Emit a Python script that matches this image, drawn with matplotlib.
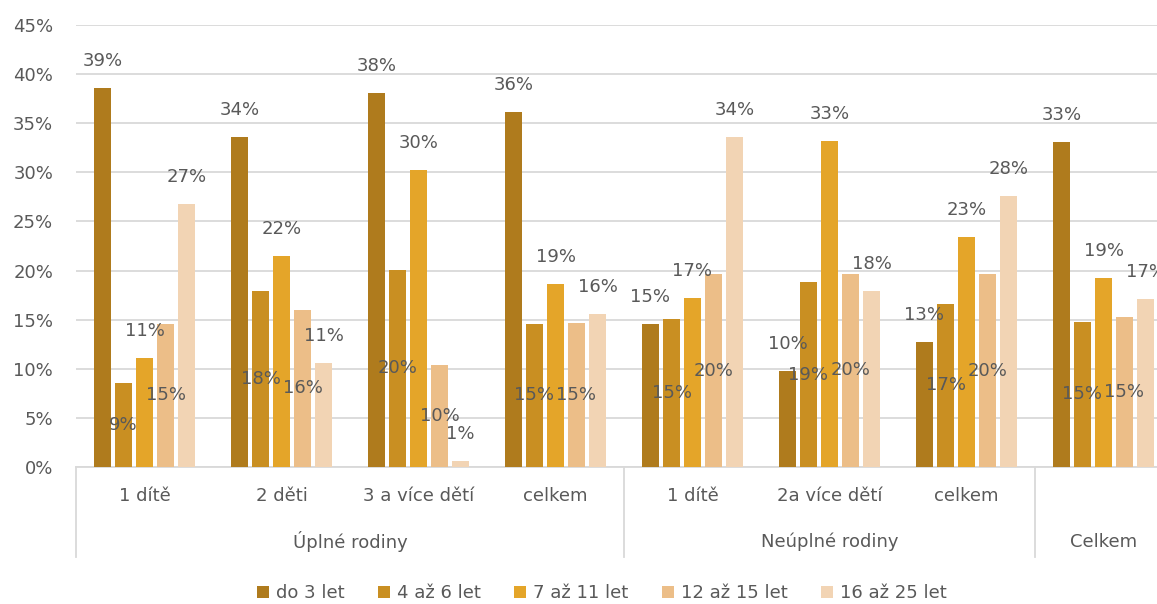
import matplotlib
matplotlib.use("Agg")
import matplotlib.pyplot as plt
import matplotlib.transforms as mtransforms
from matplotlib.lines import Line2D
import numpy as np

plt.rcParams['font.family'] = ['DejaVu Sans']

# ---- data ----
categories = ["1 dítě", "2 děti", "3 a více dětí", "celkem",
              "1 dítě", "2a více dětí", "celkem", ""]
top_groups = ["Úplné rodiny", "Neúplné rodiny", "Celkem"]
top_spans = [(0, 3), (4, 6), (7, 7)]
series_names = ["do 3 let", "4 až 6 let", "7 až 11 let", "12 až 15 let", "16 až 25 let"]

do3 = [38.6, 33.6, 38.1, 36.1, 14.6, 9.8, 12.7, 33.1]
az6 = [8.6, 17.9, 20.1, 14.6, 15.1, 18.8, 16.6, 14.8]
az11 = [11.1, 21.5, 30.2, 18.6, 17.2, 33.2, 23.4, 19.2]
az15 = [14.6, 16.0, 10.4, 14.7, 19.6, 19.7, 19.6, 15.3]
az25 = [26.8, 10.6, 0.6, 15.6, 33.6, 17.9, 27.6, 17.1]
series = [do3, az6, az11, az15, az25]

colors = ["#AF7B1D", "#C98F22", "#E4A529", "#ECBE88", "#F2D4B4"]
label_mode = ["outside", "center", "outside", "center", "outside"]

W, H = 1157, 604
fig = plt.figure(figsize=(W / 100, H / 100), dpi=100)
ax = fig.add_axes([76 / W, (H - 467) / H, (W - 76) / W, (467 - 25) / H])

n = len(categories)
x = np.arange(n)
step = 21 / 137
bw = 16.5 / 137
txt_color = "#595959"
fs = 13

for k, vals in enumerate(series):
    pos = x + (k - 2) * step
    ax.bar(pos, vals, width=bw, color=colors[k], zorder=3, label=series_names[k])
    for px, v in zip(pos, vals):
        lab = f"{round(v):d}%"
        if label_mode[k] == "outside":
            ax.annotate(lab, (px, v), xytext=(0, 19.4), textcoords="offset points",
                        ha="center", va="center", fontsize=fs, color=txt_color, zorder=5,
                        annotation_clip=False)
        else:
            ax.text(px, v / 2, lab, ha="center", va="center", fontsize=fs,
                    color=txt_color, zorder=5)

ax.set_ylim(0, 45)
ax.set_xlim(-0.5, -0.5 + (W - 76) / 137)
ax.set_yticks(np.arange(0, 46, 5))
ax.set_yticklabels([f"{t}%" for t in range(0, 46, 5)], fontsize=fs, color=txt_color)
ax.yaxis.grid(True, color="#D9D9D9", linewidth=1.3, zorder=0)
ax.set_axisbelow(True)
ax.tick_params(axis="y", length=0, pad=16.5)
ax.tick_params(axis="x", length=0, labelbottom=False)
for s in ["top", "right", "left"]:
    ax.spines[s].set_visible(False)
ax.spines["bottom"].set_color("#D9D9D9")
ax.spines["bottom"].set_linewidth(1.3)

trans = mtransforms.blended_transform_factory(ax.transData, fig.transFigure)
for i, c in enumerate(categories):
    if c:
        ax.text(i, 1 - 496 / H, c, transform=trans, ha="center", va="center",
                fontsize=fs, color=txt_color)
for name, (a, b) in zip(top_groups, top_spans):
    ax.text((a + b) / 2, 1 - 542 / H, name, transform=trans, ha="center", va="center",
            fontsize=fs, color=txt_color)
for sep in [-0.5, 3.5, 6.5]:
    fig.add_artist(Line2D([sep, sep], [1 - 467 / H, 1 - 557 / H], transform=trans,
                          color="#D9D9D9", linewidth=1.3))

leg = fig.legend(loc="center", bbox_to_anchor=(602 / W, 1 - 593 / H), ncol=5,
                 frameon=False, fontsize=fs, handlelength=0.65, handleheight=0.65,
                 handletextpad=0.4, columnspacing=1.85, labelcolor=txt_color)

fig.savefig("out.png", dpi=100)
